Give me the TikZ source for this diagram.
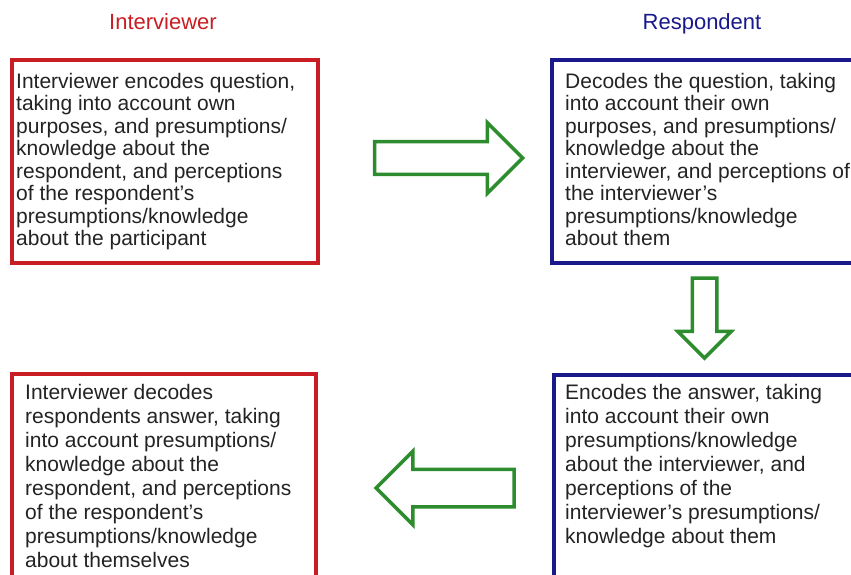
\documentclass[tikz,border=0pt]{standalone}
\usepackage{fontspec}
\setmainfont{Liberation Sans}
\definecolor{InterRed}{RGB}{200,30,35}
\definecolor{RespBlue}{RGB}{25,25,140}
\definecolor{FlowGreen}{RGB}{45,140,45}
\definecolor{BodyGray}{RGB}{35,35,35}
\usepackage{tikz}
\usetikzlibrary{positioning,shapes.arrows,calc}
\tikzset{>=latex}
\tikzset{
    redbox/.style={draw=InterRed, line width=3.5pt, anchor=north west, inner sep=0pt, outer sep=0pt},
    bluebox/.style={draw=RespBlue, line width=3.5pt, anchor=north west, inner sep=0pt, outer sep=0pt},
    boxtext/.style={anchor=north west, align=left, inner sep=0pt, text=BodyGray, font=\fontsize{21}{22.5}\selectfont},
    lowtext/.style={boxtext, font=\fontsize{21}{24}\selectfont},
    sidetitle/.style={anchor=base, font=\fontsize{22}{26}\selectfont},
    fatarrow/.style={single arrow, draw=FlowGreen, line width=3.5pt, inner xsep=0pt, minimum width=0pt}
}

\begin{document}
\begin{tikzpicture}[x=1pt, y=-1pt]
    \clip (0,0) rectangle (851,575);
    \node[sidetitle, text=InterRed] (intlabel) at (163,30) {Interviewer};
    \node[sidetitle, text=RespBlue] (reslabel) at (702,30) {Respondent};
    % the four stages
    \node[redbox, minimum width=306pt, minimum height=203pt] (encq) at (12,60) {};
    \node[bluebox, minimum width=310pt, minimum height=203pt] (decq) at (552,60) {};
    \node[bluebox, minimum width=310pt, minimum height=215pt] (enca) at (554,375) {};
    \node[redbox, minimum width=304pt, minimum height=215pt] (deca) at (12,374) {};
    \node[boxtext] (encqtext) at ($(encq.north west)+(4,13)$) {Interviewer encodes question,\\taking into account own\\purposes, and presumptions/\\knowledge about the\\respondent, and perceptions\\of the respondent's\\presumptions/knowledge\\about the participant};
    \node[boxtext] (decqtext) at ($(decq.north west)+(13,13)$) {Decodes the question, taking\\into account their own\\purposes, and presumptions/\\knowledge about the\\interviewer, and perceptions of\\the interviewer's\\presumptions/knowledge\\about them};
    \node[lowtext] (encatext) at ($(enca.north west)+(11,9)$) {Encodes the answer, taking\\into account their own\\presumptions/knowledge\\about the interviewer, and\\perceptions of the\\interviewer's presumptions/\\knowledge about them};
    \node[lowtext] (decatext) at ($(deca.north west)+(13,10)$) {Interviewer decodes\\respondents answer, taking\\into account presumptions/\\knowledge about the\\respondent, and perceptions\\of the respondent's\\presumptions/knowledge\\about themselves};
    % hollow arrows between the stages
    \node[fatarrow, inner ysep=14.5pt, single arrow head extend=19pt, minimum height=148pt] (toresp) at (440.5,158) {};
    \node[fatarrow, rotate=-90, inner ysep=10.5pt, single arrow head extend=14.5pt, minimum height=80pt] (todown) at (704.5,312) {};
    \node[fatarrow, rotate=180, inner ysep=17pt, single arrow head extend=18pt, minimum height=138pt] (toint) at (454.5,488) {};
\end{tikzpicture}
\end{document}
